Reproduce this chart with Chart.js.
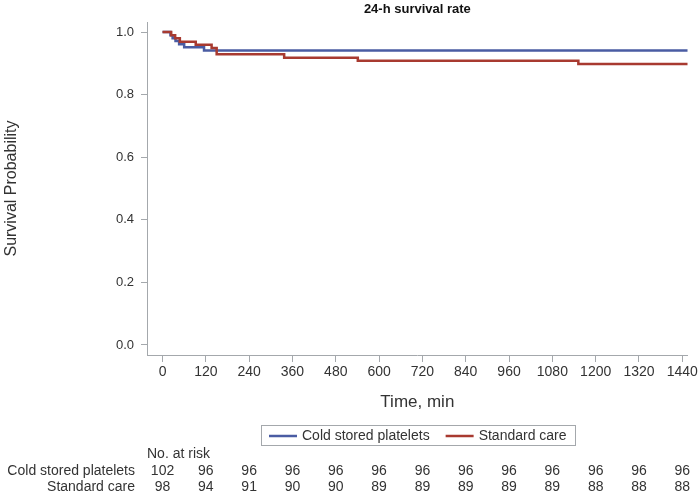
<!DOCTYPE html>
<html>
<head>
<meta charset="utf-8">
<script src="https://cdn.jsdelivr.net/npm/chart.js@4.4.1/dist/chart.umd.min.js"></script>
<style>
  html, body { margin: 0; padding: 0; background: #fff; }
  #wrap { width: 700px; height: 495px; }
</style>
</head>
<body>
<div id="wrap"><canvas id="km"></canvas></div>
<script>
// ticks
const timeTicks = [0, 120, 240, 360, 480, 600, 720, 840, 960, 1080, 1200, 1320, 1440];
const probTicks = [0, 0.2, 0.4, 0.6, 0.8, 1.0];

// Kaplan-Meier steps (time in min, survival after the event)
const coldTimes = [0, 22, 28, 36, 46, 60, 115, 1455];
const coldSurv = [1.0, 0.990, 0.980, 0.971, 0.961, 0.951, 0.941, 0.941];
const stdTimes = [0, 24, 35, 48, 92, 136, 150, 337, 541, 1152, 1455];
const stdSurv = [1.0, 0.990, 0.980, 0.969, 0.959, 0.949, 0.929, 0.918, 0.908, 0.898, 0.898];

// number at risk at each time tick
const groupNames = ['Cold stored platelets', 'Standard care'];
const riskCold = [102, 96, 96, 96, 96, 96, 96, 96, 96, 96, 96, 96, 96];
const riskStd = [98, 94, 91, 90, 90, 89, 89, 89, 89, 89, 88, 88, 88];

const blue = '#4a5ca3';
const red = '#a83a30';
const axisGray = '#a4a8ac';
const sans = "'Liberation Sans', Arial, sans-serif";

const toPts = (xs, ys) => xs.map((t, i) => ({ x: t, y: ys[i] }));

// legend + risk table drawn under the axis
const extras = {
  id: 'extras',
  afterDraw(chart) {
    const ctx = chart.ctx;
    const xs = chart.scales.x;
    const area = chart.chartArea;
    ctx.save();

    // legend
    ctx.font = '14px ' + sans;
    ctx.textBaseline = 'middle';
    const lineLen = 28, gap = 5, sep = 16, pad = 8;
    const w0 = ctx.measureText(groupNames[0]).width;
    const w1 = ctx.measureText(groupNames[1]).width;
    const boxW = pad + lineLen + gap + w0 + sep + lineLen + gap + w1 + pad;
    const cx = (area.left + area.right) / 2;
    const boxL = Math.round(cx - boxW / 2);
    const ly = 436;
    ctx.strokeStyle = axisGray;
    ctx.lineWidth = 1;
    ctx.strokeRect(boxL + 0.5, ly - 10.5, Math.round(boxW), 20);
    let x = boxL + pad;
    [[blue, groupNames[0], w0], [red, groupNames[1], w1]].forEach(([c, name, w]) => {
      ctx.strokeStyle = c;
      ctx.lineWidth = 2.5;
      ctx.beginPath();
      ctx.moveTo(x, ly);
      ctx.lineTo(x + lineLen, ly);
      ctx.stroke();
      ctx.fillStyle = '#333';
      ctx.textAlign = 'left';
      ctx.fillText(name, x + lineLen + gap, ly);
      x += lineLen + gap + w + sep;
    });

    // number at risk
    ctx.fillStyle = '#333';
    ctx.textAlign = 'left';
    ctx.fillText('No. at risk', area.left, 454);
    const rows = [[groupNames[0], riskCold, 471], [groupNames[1], riskStd, 487]];
    rows.forEach(([name, vals, y]) => {
      ctx.textAlign = 'right';
      ctx.fillText(name, 135, y);
      ctx.textAlign = 'center';
      vals.forEach((v, i) => ctx.fillText(String(v), xs.getPixelForValue(timeTicks[i]), y));
    });
    ctx.restore();
  }
};

new Chart(document.getElementById('km'), {
  type: 'line',
  data: {
    datasets: [
      {
        label: groupNames[0],
        data: toPts(coldTimes, coldSurv),
        borderColor: blue,
        borderWidth: 2.5,
        pointRadius: 0,
        stepped: true,
        fill: false,
        order: 2
      },
      {
        label: groupNames[1],
        data: toPts(stdTimes, stdSurv),
        borderColor: red,
        borderWidth: 2.5,
        pointRadius: 0,
        stepped: true,
        fill: false,
        order: 1
      }
    ]
  },
  options: {
    responsive: true,
    maintainAspectRatio: false,
    animation: false,
    layout: { padding: { left: 0, right: 2, top: 0, bottom: 80 } },
    plugins: {
      legend: { display: false },
      tooltip: { enabled: false },
      title: {
        display: true,
        fullSize: false,
        text: '24-h survival rate',
        color: '#111',
        font: { family: sans, size: 13, weight: 'bold' },
        padding: { top: 2, bottom: 4.4 }
      }
    },
    scales: {
      x: {
        type: 'linear',
        min: -43,
        max: 1455,
        afterBuildTicks: s => { s.ticks = timeTicks.map(v => ({ value: v })); },
        afterFit: s => { s.height = 60; },
        grid: { drawOnChartArea: false, drawTicks: true, tickLength: 7, color: axisGray },
        border: { color: axisGray, width: 1 },
        ticks: {
          color: '#333',
          font: { family: sans, size: 14 },
          padding: 2,
          maxRotation: 0,
          autoSkip: false,
          callback: v => String(v)
        },
        title: {
          display: true,
          text: 'Time, min',
          color: '#333',
          font: { family: sans, size: 17 },
          padding: { top: 0, bottom: 2 }
        }
      },
      y: {
        min: -0.032,
        max: 1.032,
        afterBuildTicks: s => { s.ticks = probTicks.map(v => ({ value: v })); },
        afterFit: s => { s.width = 147; },
        grid: { drawOnChartArea: false, drawTicks: true, tickLength: 6, color: axisGray },
        border: { color: axisGray, width: 1 },
        ticks: {
          color: '#333',
          font: { family: sans, size: 13 },
          padding: 7,
          callback: v => v.toFixed(1)
        },
        title: {
          display: true,
          text: 'Survival Probability',
          color: '#333',
          font: { family: sans, size: 16 },
          padding: { top: 2, bottom: 0 }
        }
      }
    }
  },
  plugins: [extras]
});
</script>
</body>
</html>
